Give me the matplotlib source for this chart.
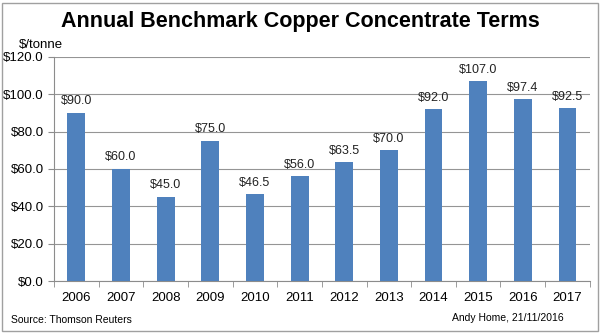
import matplotlib.pyplot as plt
from matplotlib.patches import Rectangle

plt.rcParams['font.family'] = ['Liberation Sans', 'DejaVu Sans']

years = ['2006', '2007', '2008', '2009', '2010', '2011', '2012', '2013',
         '2014', '2015', '2016', '2017']
values = [90.0, 60.0, 45.0, 75.0, 46.5, 56.0, 63.5, 70.0, 92.0, 107.0, 97.4, 92.5]
yticks = [0, 20, 40, 60, 80, 100, 120]

fig = plt.figure(figsize=(6, 3.33), dpi=100)
ax = fig.add_axes([0.09, 0.156, 0.893, 0.673])

x = range(len(years))
ax.bar(x, values, width=0.4, color='#4F81BD', zorder=3)
for i, v in zip(x, values):
    ax.text(i, v + 3, f'${v:.1f}', ha='center', va='bottom', fontsize=9, color='#222222')

ax.set_xlim(-0.5, len(years) - 0.5)
ax.set_ylim(0, 120)
ax.set_yticks(yticks)
ax.set_yticklabels([f'${t:.1f}' for t in yticks], fontsize=9.5)
ax.yaxis.grid(True, color='#959595', lw=0.8, zorder=0)

ax.set_xticks(list(x))
ax.set_xticklabels(years, fontsize=9.5)
ax.tick_params(axis='x', length=0, pad=8)
ax.set_xticks([i - 0.5 for i in range(len(years) + 1)], minor=True)
ax.tick_params(axis='x', which='minor', length=4, color='#8c8c8c')
ax.tick_params(axis='y', length=4, color='#8c8c8c')

for s in ['top', 'right']:
    ax.spines[s].set_visible(False)
ax.spines['left'].set_color('#8c8c8c')
ax.spines['bottom'].set_color('#8c8c8c')

fig.text(0.5, 0.935, 'Annual Benchmark Copper Concentrate Terms', ha='center',
         va='center', fontsize=15.5, fontweight='bold')
fig.text(0.068, 0.865, '$/tonne', ha='center', va='center', fontsize=9.5)
fig.text(0.018, 0.038, 'Source: Thomson Reuters', ha='left', va='center', fontsize=7.5)
fig.text(0.94, 0.045, 'Andy Home, 21/11/2016', ha='right', va='center', fontsize=7.5)

fig.patches.append(Rectangle((0.004, 0.007), 0.992, 0.985, transform=fig.transFigure,
                             fill=False, edgecolor='#a0a0a0', lw=1))

fig.savefig('out.png', dpi=100)
